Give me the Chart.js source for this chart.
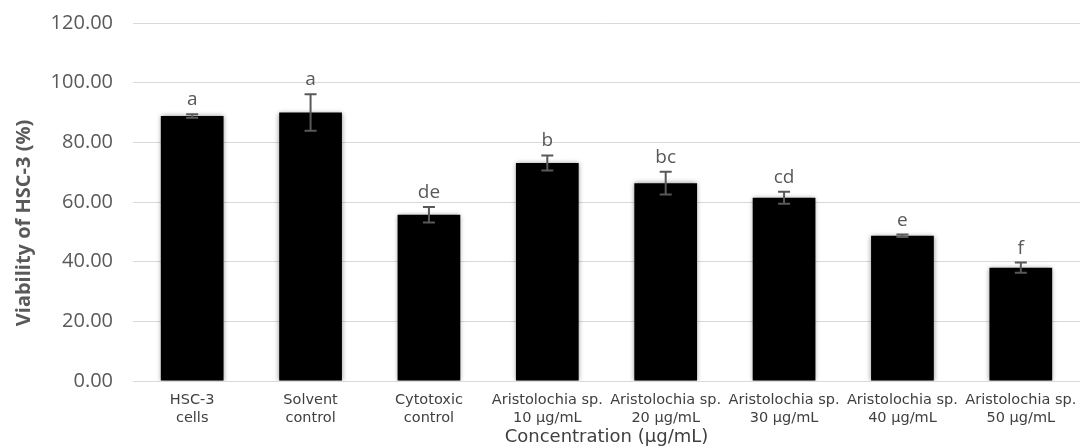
<!DOCTYPE html>
<html>
<head>
<meta charset="utf-8">
<script src="https://cdn.jsdelivr.net/npm/chart.js@4"></script>
<style>
  html, body { margin: 0; padding: 0; background: #ffffff; }
  #wrap { width: 1089px; height: 446px; position: relative; }
</style>
</head>
<body>
<div id="wrap"><canvas id="viabilityChart"></canvas></div>
<script>
'use strict';

const categories = [
  ['HSC-3', 'cells'],
  ['Solvent', 'control'],
  ['Cytotoxic', 'control'],
  ['Aristolochia sp.', '10 µg/mL'],
  ['Aristolochia sp.', '20 µg/mL'],
  ['Aristolochia sp.', '30 µg/mL'],
  ['Aristolochia sp.', '40 µg/mL'],
  ['Aristolochia sp.', '50 µg/mL'],
];
const viability = [88.8, 90.0, 55.7, 73.1, 66.3, 61.4, 48.7, 38.0];
const errors    = [0.6, 6.1, 2.6, 2.5, 3.8, 2.0, 0.4, 1.7];
const letters   = ['a', 'a', 'de', 'b', 'bc', 'cd', 'e', 'f'];
const yTitle    = 'Viability of HSC-3 (%)';

const AXIS_GREY = '#595959';
const TEXT_DARK = '#404040';

// error bars + significance letters, taken from the arrays above
const errorBarPlugin = {
  id: 'errorBars',
  afterDatasetsDraw(chart) {
    const { ctx, scales: { y } } = chart;
    const meta = chart.getDatasetMeta(0);
    ctx.save();
    ctx.strokeStyle = AXIS_GREY;
    ctx.lineWidth = 2;
    meta.data.forEach((bar, i) => {
      const x = bar.x;
      const top = y.getPixelForValue(viability[i] + errors[i]);
      const bot = y.getPixelForValue(viability[i] - errors[i]);
      ctx.beginPath();
      ctx.moveTo(x, top); ctx.lineTo(x, bot);
      ctx.moveTo(x - 6, top); ctx.lineTo(x + 6, top);
      ctx.moveTo(x - 6, bot); ctx.lineTo(x + 6, bot);
      ctx.stroke();

      ctx.fillStyle = AXIS_GREY;
      ctx.font = '19px "Open Sans"';
      ctx.textAlign = 'center';
      ctx.textBaseline = 'alphabetic';
      ctx.fillText(letters[i], x, top - 9);
    });
    ctx.restore();
  },
};

// y title sits a bit below the plot centre in the original, so draw it here
const yTitlePlugin = {
  id: 'yTitle',
  afterDraw(chart) {
    const { ctx, chartArea } = chart;
    const cy = (chartArea.top + chartArea.bottom) / 2 + 21;
    ctx.save();
    ctx.translate(24, cy);
    ctx.rotate(-Math.PI / 2);
    ctx.fillStyle = AXIS_GREY;
    ctx.font = 'bold 20px "Open Sans"';
    ctx.textAlign = 'center';
    ctx.textBaseline = 'middle';
    ctx.fillText(yTitle, 0, 0);
    ctx.restore();
  },
};

const shadowPlugin = {
  id: 'barShadow',
  beforeDatasetDraw(chart) {
    const ctx = chart.ctx;
    ctx.save();
    ctx.shadowColor = 'rgba(0,0,0,0.45)';
    ctx.shadowBlur = 5;
  },
  afterDatasetDraw(chart) {
    chart.ctx.restore();
  },
};

new Chart(document.getElementById('viabilityChart'), {
  type: 'bar',
  data: {
    labels: categories,
    datasets: [{
      label: 'Viability',
      data: viability,
      backgroundColor: '#000000',
      borderWidth: 0,
      categoryPercentage: 1,
      barPercentage: 0.53,
    }],
  },
  options: {
    responsive: true,
    maintainAspectRatio: false,
    animation: false,
    layout: { padding: { top: 23, right: 9, left: 0, bottom: 0 } },
    plugins: {
      legend: { display: false },
      tooltip: { enabled: false },
    },
    scales: {
      x: {
        grid: { display: false },
        border: { display: false },
        ticks: {
          color: TEXT_DARK,
          font: { family: 'DejaVu Sans', size: 14.5, lineHeight: 1.25 },
          maxRotation: 0,
          autoSkip: false,
          padding: 2,
        },
        title: {
          display: true,
          text: 'Concentration (µg/mL)',
          color: TEXT_DARK,
          font: { family: 'DejaVu Sans', size: 18, lineHeight: 0.95 },
          padding: { top: 0, bottom: 0 },
        },
        afterFit(scale) { scale.height = 65; },
      },
      y: {
        min: 0,
        max: 120,
        grid: { color: '#d9d9d9', lineWidth: 1, drawTicks: true, tickLength: 20, tickColor: 'rgba(0,0,0,0)' },
        border: { display: false },
        ticks: {
          stepSize: 20,
          color: AXIS_GREY,
          padding: 0,
          font: { family: 'Open Sans', size: 20 },
          callback: v => v.toFixed(2),
        },
        afterFit(scale) { scale.width = 133; },
      },
    },
  },
  plugins: [shadowPlugin, errorBarPlugin, yTitlePlugin],
});
</script>
</body>
</html>
